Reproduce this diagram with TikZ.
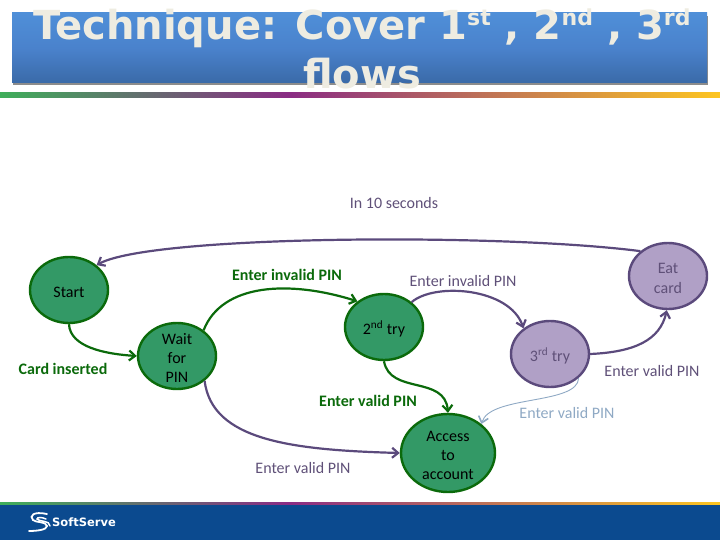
\documentclass[tikz,border=0pt]{standalone}
\usepackage{fontspec}
\setmainfont{Carlito}
\newfontfamily\titlefont{DejaVu Sans}
\usetikzlibrary{arrows.meta,shapes.geometric}
\definecolor{nodegreen}{HTML}{339966}
\definecolor{edgegreen}{HTML}{0B6A0B}
\definecolor{nodepurple}{HTML}{B0A0C6}
\definecolor{edgepurple}{HTML}{5B4A7C}
\definecolor{palepurple}{HTML}{5F5078}
\definecolor{lightedge}{HTML}{8FA9C4}
\definecolor{footblue}{HTML}{0B4A8F}
\definecolor{titletext}{HTML}{EEECE1}
\definecolor{titleA}{HTML}{4F8FD8}
\definecolor{titleM}{HTML}{4A82CC}
\definecolor{titleB}{HTML}{3A6AA8}
\definecolor{divA}{HTML}{3FAE5A}
\definecolor{divB}{HTML}{8A2C84}
\definecolor{divC}{HTML}{FDC521}
\newcommand{\titlesup}[1]{\raisebox{0.34em}{\fontsize{22}{22}\selectfont #1}}
\newcommand{\nodelines}[1]{\raisebox{-8pt}[0pt][0pt]{\begin{tabular}{@{}c@{}}#1\end{tabular}}}
\tikzset{
 x=1pt,y=-1pt,
 stateg/.style={ellipse,draw=edgegreen,line width=2.4pt,fill=nodegreen,minimum width=78pt,minimum height=66pt,inner sep=0pt,align=center,text=black,font=\fontsize{16}{19}\selectfont},
 statep/.style={ellipse,draw=edgepurple,line width=2.4pt,fill=nodepurple,minimum width=78pt,minimum height=66pt,inner sep=0pt,align=center,text=palepurple,font=\fontsize{16}{20}\selectfont},
 arrg/.style={draw=edgegreen,line width=2.2pt,-{Straight Barb[length=6pt,width=10pt]}},
 arrp/.style={draw=edgepurple,line width=2.2pt,-{Straight Barb[length=6pt,width=10pt]}},
 arrl/.style={draw=lightedge,line width=0.9pt,-{Straight Barb[length=6pt,width=10pt,line width=1.6pt]}},
 lab/.style={font=\fontsize{16}{18}\selectfont,text=palepurple,inner sep=0pt},
 labg/.style={font=\bfseries\fontsize{16}{18}\selectfont,text=edgegreen,inner sep=0pt},
 labl/.style={font=\fontsize{16}{18}\selectfont,text=lightedge,inner sep=0pt},
}
\begin{document}
\begin{tikzpicture}
\useasboundingbox (0,0) rectangle (720,540);
% title band
\fill[black!45] (13,16) rectangle (708,85);
\shade[top color=titleA,bottom color=titleB,middle color=titleM] (12,13) rectangle (707,83);
\node[font=\titlefont\bfseries\fontsize{40}{49}\selectfont,text=titletext,align=center,inner sep=0pt] (title) at (362,49)
 {Technique: Cover 1\titlesup{st} , 2\titlesup{nd} , 3\titlesup{rd}\\flows};
% divider
\shade[left color=divA,right color=divB] (0,93) rectangle (288,98);
\shade[left color=divB,right color=divC] (288,93) rectangle (720,98);
% footer
\fill[footblue] (0,503) rectangle (720,540);
\shade[left color=divA,right color=divB] (0,502) rectangle (288,504);
\shade[left color=divB,right color=divC] (288,502) rectangle (720,504);
\draw[white,line width=1.8pt,line cap=round] (47,514) .. controls (33,511) and (29,516) .. (33,520) .. controls (36,523) and (46,521) .. (47,526) .. controls (47,530) and (36,531) .. (29,531);
\draw[white,line width=1.5pt,line cap=round] (46,519) .. controls (42,517) and (37,517) .. (37,519) .. controls (39,522) and (50,520) .. (50,526);
\node[font=\titlefont\bfseries\fontsize{11.5}{13}\selectfont,text=white,inner sep=0pt,anchor=west] (brand) at (52,522) {SoftServe};
% states
\node[stateg] (start) at (69,290) {\nodelines{Start}};
\node[stateg] (wait) at (177,356) {\nodelines{Wait\\for\\PIN}};
\node[stateg] (second) at (384,327) {\nodelines{2\textsuperscript{nd} try}};
\node[statep] (third) at (550,354) {\nodelines{3\textsuperscript{rd} try}};
\node[statep] (eat) at (668,276) {\nodelines{Eat\\card}};
\node[stateg,minimum width=94pt,minimum height=78pt] (access) at (448,453) {\nodelines{Access\\to\\account}};
% connectors
\draw[arrg] (start.-90) .. controls (70,347) and (105,354) .. (wait.west);
\draw[arrg] (wait.44) .. controls (222,283) and (290,280) .. (second.136);
\draw[arrp] (second.42) .. controls (435,282) and (510,288) .. (third.136);
\draw[arrp] (third.east) .. controls (635,352) and (660,340) .. (eat.-92);
\draw[arrp] (eat.138) .. controls (500,233) and (150,235) .. (start.42);
\draw[arrp] (wait.-42) .. controls (212,440) and (290,450) .. (access.west);
\draw[arrg] (second.-90) .. controls (390,395) and (445,375) .. (access.90);
\draw[arrl] (third.-40) .. controls (578,405) and (490,395) .. (access.41);
% labels
\node[lab] (l1) at (394,203) {In 10 seconds};
\node[labg] (l2) at (287,275) {Enter invalid PIN};
\node[lab] (l3) at (463,281) {Enter invalid PIN};
\node[labg] (l4) at (63,369) {Card inserted};
\node[lab] (l5) at (652,371) {Enter valid PIN};
\node[labg] (l6) at (368,401) {Enter valid PIN};
\node[labl] (l7) at (567,413) {Enter valid PIN};
\node[lab] (l8) at (303,468) {Enter valid PIN};
\end{tikzpicture}
\end{document}
